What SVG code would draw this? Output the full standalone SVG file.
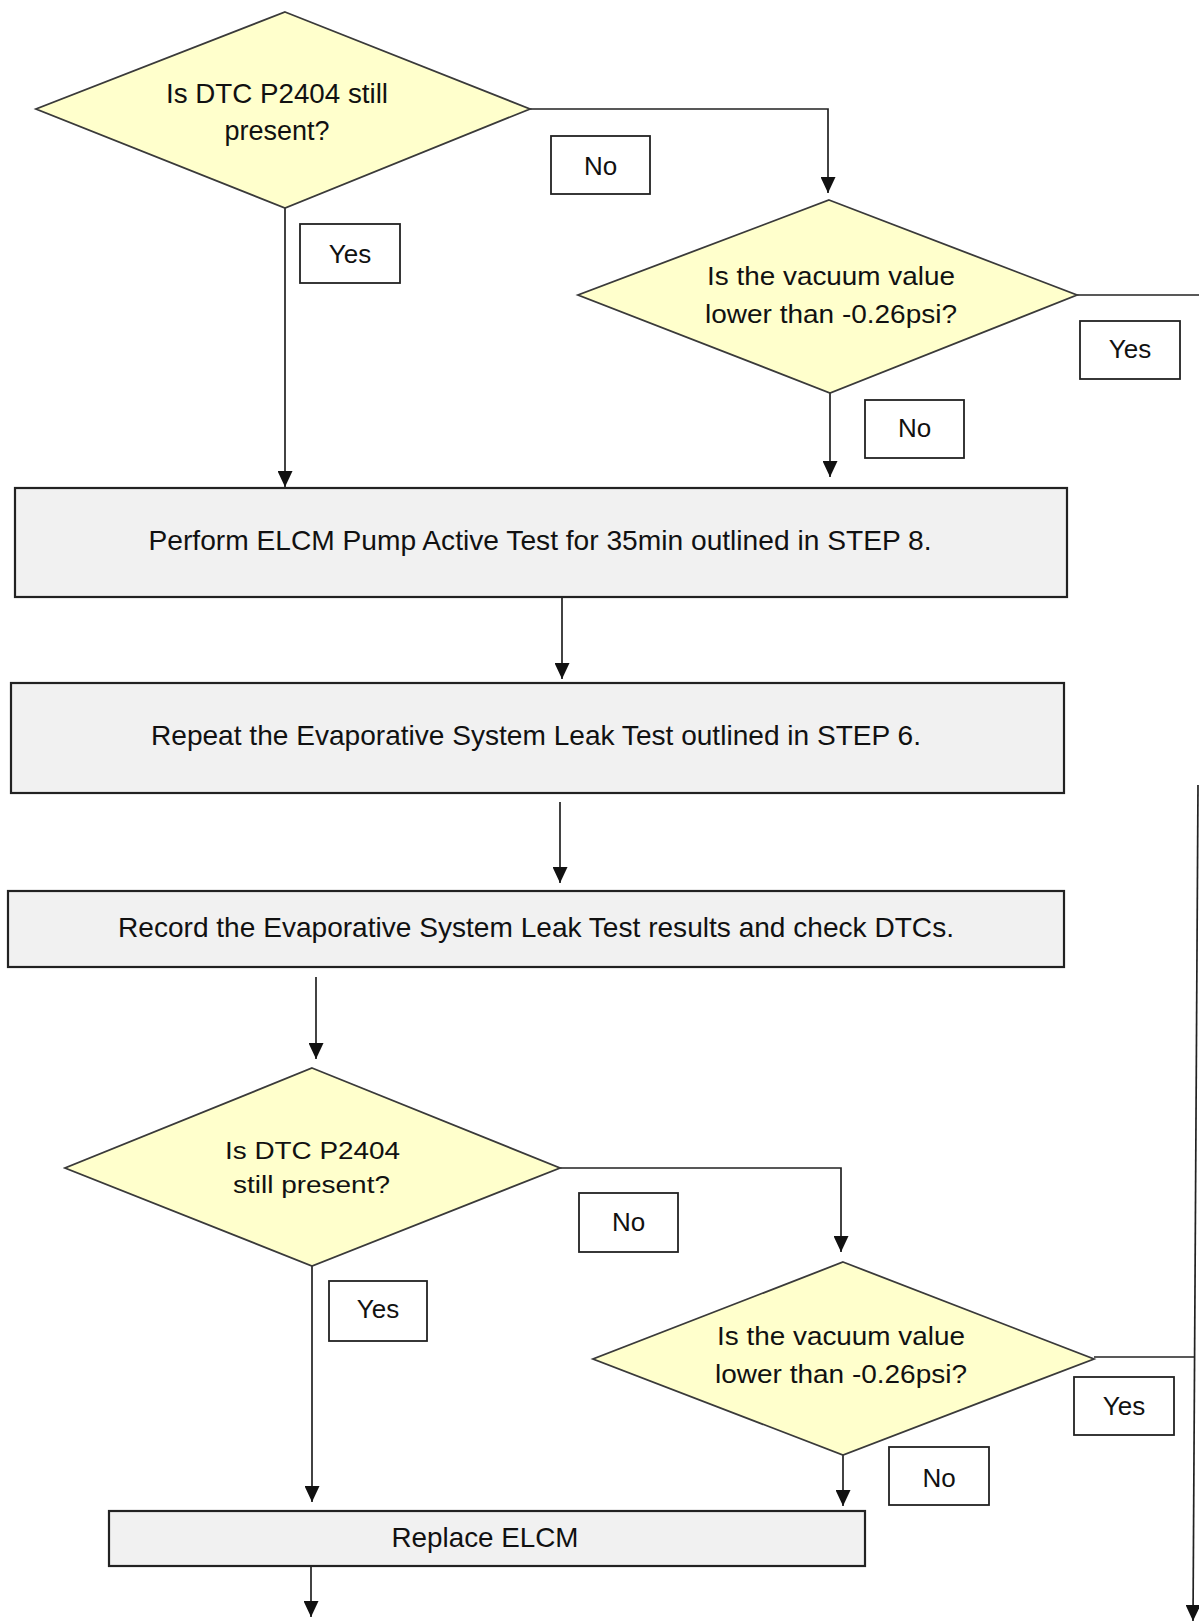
<svg xmlns="http://www.w3.org/2000/svg" width="1199" height="1623" viewBox="0 0 1199 1623">
<style>
.dia{fill:#ffffcc;stroke:#3a3a3a;stroke-width:1.8}
.box{fill:#f1f1f1;stroke:#222;stroke-width:2.2}
.lbl{fill:#fff;stroke:#222;stroke-width:1.8}
.t{font-family:"Liberation Sans",Arial,sans-serif;fill:#111;text-anchor:middle}
.con{fill:none;stroke:#222;stroke-width:1.7}
</style>
<defs>
<marker id="ah" viewBox="0 0 16 15" refX="16" refY="7.5" markerWidth="16" markerHeight="15" markerUnits="userSpaceOnUse" orient="auto">
<path d="M0,0 L16,7.5 L0,15 z" fill="#111"/>
</marker>
</defs>
<rect width="1199" height="1623" fill="#fff"/>
<g id="connectors">
<path class="con" d="M530,109 H828 V193" marker-end="url(#ah)"/>
<path class="con" d="M285,208 V487" marker-end="url(#ah)"/>
<path class="con" d="M830,393 V477" marker-end="url(#ah)"/>
<path class="con" d="M1077,295 H1199" stroke="#555"/>
<path class="con" d="M1198,785 L1193,1621" marker-end="url(#ah)"/>
<path class="con" d="M562,597 V679" marker-end="url(#ah)"/>
<path class="con" d="M560,802 V883" marker-end="url(#ah)"/>
<path class="con" d="M316,977 V1059" marker-end="url(#ah)"/>
<path class="con" d="M560,1168 H841 V1252" marker-end="url(#ah)"/>
<path class="con" d="M312,1266 V1502" marker-end="url(#ah)"/>
<path class="con" d="M843,1455 V1506" marker-end="url(#ah)"/>
<path class="con" d="M1094,1357 H1195"/>
<path class="con" d="M311,1566 V1617" marker-end="url(#ah)"/>
</g>
<g id="d1">
<polygon class="dia" points="285,12 530,109 285,208 36,109"/>
<text class="t" x="277" y="103" font-size="27.5" textLength="222" lengthAdjust="spacingAndGlyphs">Is DTC P2404 still</text>
<text class="t" x="277" y="140" font-size="27.5" textLength="105" lengthAdjust="spacingAndGlyphs">present?</text>
</g>
<g id="d2">
<polygon class="dia" points="829,200 1077,295 830,393 578,295"/>
<text class="t" x="831" y="285" font-size="26" textLength="248" lengthAdjust="spacingAndGlyphs">Is the vacuum value</text>
<text class="t" x="831" y="323" font-size="26" textLength="252" lengthAdjust="spacingAndGlyphs">lower than -0.26psi?</text>
</g>
<g id="b1">
<rect class="box" x="15" y="488" width="1052" height="109"/>
<text class="t" x="540" y="550" font-size="28" textLength="783" lengthAdjust="spacingAndGlyphs">Perform ELCM Pump Active Test for 35min outlined in STEP 8.</text>
</g>
<g id="b2">
<rect class="box" x="11" y="683" width="1053" height="110"/>
<text class="t" x="536" y="745" font-size="28" textLength="770" lengthAdjust="spacingAndGlyphs">Repeat the Evaporative System Leak Test outlined in STEP 6.</text>
</g>
<g id="b3">
<rect class="box" x="8" y="891" width="1056" height="76"/>
<text class="t" x="536" y="937" font-size="28" textLength="836" lengthAdjust="spacingAndGlyphs">Record the Evaporative System Leak Test results and check DTCs.</text>
</g>
<g id="d3">
<polygon class="dia" points="312,1068 560,1168 312,1266 65,1168"/>
<text class="t" x="312.5" y="1159" font-size="23" textLength="175" lengthAdjust="spacingAndGlyphs">Is DTC P2404</text>
<text class="t" x="311.5" y="1193" font-size="23" textLength="157" lengthAdjust="spacingAndGlyphs">still present?</text>
</g>
<g id="d4">
<polygon class="dia" points="843,1262 1094,1359 843,1455 593,1359"/>
<text class="t" x="841" y="1345" font-size="25" textLength="248" lengthAdjust="spacingAndGlyphs">Is the vacuum value</text>
<text class="t" x="841" y="1383" font-size="25" textLength="252" lengthAdjust="spacingAndGlyphs">lower than -0.26psi?</text>
</g>
<g id="b4">
<rect class="box" x="109" y="1511" width="756" height="55"/>
<text class="t" x="485" y="1547" font-size="28" textLength="187" lengthAdjust="spacingAndGlyphs">Replace ELCM</text>
</g>
<g id="l-yes1"><rect class="lbl" x="300" y="224" width="100" height="59"/><text class="t" x="350" y="263" font-size="26">Yes</text></g>
<g id="l-no1"><rect class="lbl" x="551" y="136" width="99" height="58"/><text class="t" x="600.5" y="175" font-size="26">No</text></g>
<g id="l-yes2"><rect class="lbl" x="1080" y="321" width="100" height="58"/><text class="t" x="1130" y="358" font-size="26">Yes</text></g>
<g id="l-no2"><rect class="lbl" x="865" y="400" width="99" height="58"/><text class="t" x="914.5" y="437" font-size="26">No</text></g>
<g id="l-no3"><rect class="lbl" x="579" y="1193" width="99" height="59"/><text class="t" x="628.5" y="1231" font-size="26">No</text></g>
<g id="l-yes3"><rect class="lbl" x="329" y="1281" width="98" height="60"/><text class="t" x="378" y="1318" font-size="26">Yes</text></g>
<g id="l-yes4"><rect class="lbl" x="1074" y="1377" width="100" height="58"/><text class="t" x="1124" y="1415" font-size="26">Yes</text></g>
<g id="l-no4"><rect class="lbl" x="889" y="1447" width="100" height="58"/><text class="t" x="939" y="1487" font-size="26">No</text></g>
</svg>
